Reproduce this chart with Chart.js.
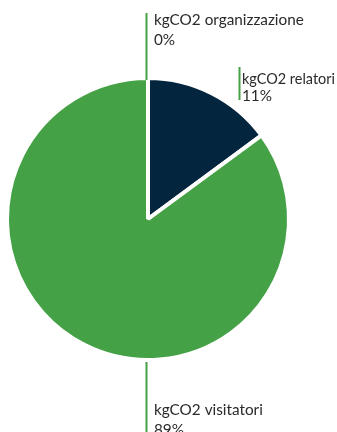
<!DOCTYPE html>
<html>
<head>
<meta charset="utf-8">
<script src="https://cdn.jsdelivr.net/npm/chart.js@4/dist/chart.umd.min.js"></script>
<style>
html,body{margin:0;padding:0;background:#fff;}
#wrap{position:relative;width:337px;height:432px;}
</style>
</head>
<body>
<div id="wrap"><canvas id="c" width="337" height="432"></canvas></div>
<script>
const categories = ["kgCO2 organizzazione", "kgCO2 relatori", "kgCO2 visitatori"];
const values = [0, 14.9, 85.1];
const percentLabels = ["0%", "11%", "89%"];
const colors = ["#45a146", "#03253e", "#45a146"];

// label placement: angle (fraction of circle from top, clockwise), leader line range relative to arc
const labelPlacement = [
  {angle: 0.0,   lineTop: 13,  lineBottom: 80,  textX: 154, base1: 25,  base2: 45},
  {angle: 0.114, lineTop: 67,  lineBottom: 100, textX: 242, base1: 84,  base2: 101},
  {angle: 0.5,   lineTop: 362, lineBottom: 432, textX: 154, base1: 415, base2: 435}
];

const labelPlugin = {
  id: 'leaderLabels',
  afterDraw(chart) {
    const ctx = chart.ctx;
    const arc = chart.getDatasetMeta(0).data[0];
    const cx = arc.x, r = arc.outerRadius;
    ctx.save();
    labelPlacement.forEach((p, i) => {
      const a = p.angle * Math.PI * 2;
      const x = Math.round(cx + r * Math.sin(a)) - 1.5;
      ctx.strokeStyle = "#45a146";
      ctx.lineWidth = 2;
      ctx.beginPath();
      ctx.moveTo(x, p.lineTop);
      ctx.lineTo(x, p.lineBottom);
      ctx.stroke();
      ctx.fillStyle = "#2a2a2a";
      ctx.font = "15.3px Lato";
      ctx.textBaseline = "alphabetic";
      ctx.textAlign = "left";
      const maxW = chart.width - p.textX - 2;
      ctx.fillText(categories[i], p.textX, p.base1, maxW);
      ctx.fillText(percentLabels[i], p.textX, p.base2, maxW);
    });
    ctx.restore();
  }
};

new Chart(document.getElementById('c'), {
  type: 'pie',
  data: {
    labels: categories,
    datasets: [{
      data: values,
      backgroundColor: colors,
      borderColor: "#ffffff",
      borderWidth: 4
    }]
  },
  options: {
    responsive: false,
    animation: false,
    layout: {padding: {left: 5, right: 46, top: 76, bottom: 70}},
    plugins: {legend: {display: false}, tooltip: {enabled: false}}
  },
  plugins: [labelPlugin]
});
</script>
</body>
</html>
